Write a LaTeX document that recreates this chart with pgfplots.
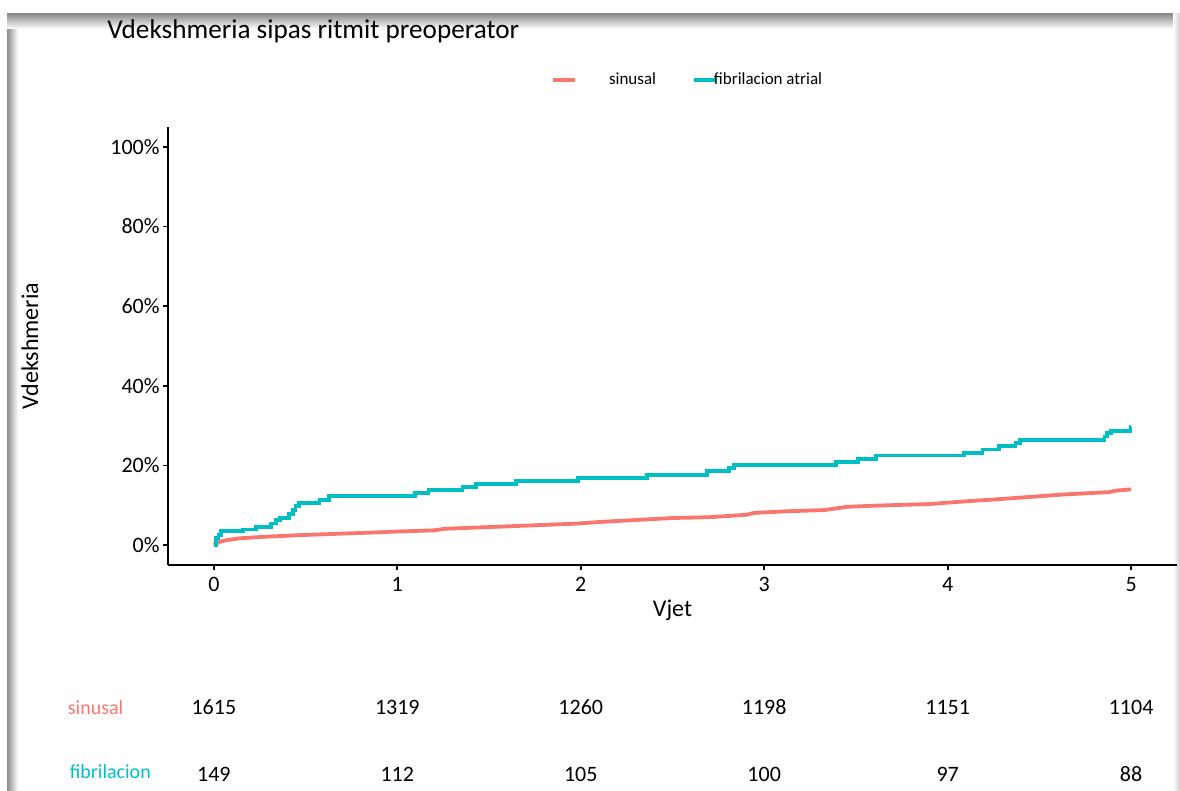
\documentclass[border=0pt]{standalone}
\usepackage{pgfplots}
\pgfplotsset{compat=1.18}
\usepackage{fontspec}
\setmainfont{Carlito}
\definecolor{sred}{HTML}{F8766D}
\definecolor{fcyan}{HTML}{00BFC4}

\pgfplotstableread{
t p
0 0
0.03 0.8
0.07 1.25
0.14 1.7
0.28 2.1
0.47 2.5
0.65 2.8
0.9 3.2
1.0 3.4
1.2 3.7
1.26 4.1
1.6 4.7
1.98 5.4
2.1 5.8
2.5 6.8
2.7 7.0
2.9 7.6
2.95 8.1
3.13 8.5
3.33 8.8
3.45 9.6
3.6 9.9
3.9 10.3
4.1 11.0
4.27 11.5
4.45 12.1
4.63 12.7
4.88 13.3
4.92 13.7
5.0 14.0
}\sinusal

\pgfplotstableread{
t p
0 0
0.01 1.7
0.025 2.5
0.04 3.5
0.16 3.9
0.23 4.6
0.31 5.4
0.34 6.25
0.36 6.8
0.41 7.9
0.43 8.75
0.445 9.75
0.464 10.6
0.576 11.25
0.627 12.25
1.098 13.1
1.17 13.75
1.355 14.6
1.427 15.4
1.648 16.1
1.983 16.9
2.36 17.7
2.687 18.6
2.81 19.3
2.837 20.2
3.393 20.8
3.51 21.7
3.61 22.5
4.09 23.2
4.19 24.0
4.28 24.8
4.37 25.6
4.395 26.4
4.855 27.25
4.87 28.1
4.89 28.75
4.996 29.75
5.0 29.75
}\fibril

\pgfplotstableread{
x y n
0 0.83 1615
1 0.83 1319
2 0.83 1260
3 0.83 1198
4 0.83 1151
5 0.83 1104
0 0.16 149
1 0.16 112
2 0.16 105
3 0.16 100
4 0.16 97
5 0.16 88
}\risk

\begin{document}
\begin{tikzpicture}
\path[use as bounding box] (0,0) rectangle (590pt,395.5pt);
% screenshot frame shadow
\shade[left color=gray!90, right color=white] (3.5pt,0pt) rectangle (9pt,388.5pt);
\shade[top color=gray!90, bottom color=white] (3.5pt,388.5pt) rectangle (590pt,381pt);
\shade[left color=white, right color=gray!40] (586.5pt,0pt) rectangle (590pt,388.5pt);

\node[anchor=west, inner sep=0pt, font=\fontsize{13.6}{16}\selectfont] at (53.5pt,380pt) {Vdekshmeria sipas ritmit preoperator};

\begin{axis}[
  at={(84pt,113pt)}, anchor=south west,
  scale only axis, width=504.5pt, height=219pt,
  xmin=-0.25, xmax=5.25, ymin=-5, ymax=105,
  axis x line*=bottom, axis y line*=left,
  axis line style={line width=0.9pt, black},
  xtick={0,1,2,3,4,5}, ytick={0,20,40,60,80,100},
  yticklabel={\pgfmathprintnumber{\tick}\%},
  tick align=outside, major tick length=2.5pt,
  every tick/.style={black, line width=0.9pt},
  tick label style={font=\fontsize{11}{13}\selectfont},
  yticklabel style={inner sep=1.5pt},
  /pgf/number format/assume math mode=true,
  xlabel={Vjet}, ylabel={Vdekshmeria},
  every axis x label/.style={at={(rel axis cs:0.5,-0.103)},anchor=center,font=\fontsize{12}{14}\selectfont},
  every axis y label/.style={at={(rel axis cs:-0.137,0.5)},rotate=90,anchor=center,font=\fontsize{12}{14}\selectfont},
  legend style={at={(0.516,1.107)}, anchor=center, draw=none, fill=none,
    legend columns=2, font=\fontsize{8.5}{10}\selectfont},
  legend image code/.code={\draw[#1] (0pt,0pt) -- (11pt,0pt);},
]
\addplot[sred, line width=1.9pt, sharp plot] table[x=t,y=p] {\sinusal};
\addlegendentry{\hspace*{14pt}sinusal\rule{16pt}{0pt}}
\addplot[fcyan, line width=1.9pt, const plot] table[x=t,y=p] {\fibril};
\addlegendentry{\hspace*{-4pt}fibrilacion atrial}
\end{axis}

\begin{axis}[
  at={(84pt,0pt)}, anchor=south west,
  scale only axis, width=504.5pt, height=50pt,
  xmin=-0.25, xmax=5.25, ymin=0, ymax=1,
  hide axis, clip=false,
]
\addplot[draw=none, mark=none, nodes near coords, point meta=explicit symbolic,
  every node near coord/.append style={anchor=center, text height=1.6ex, text depth=0.2ex, text=black, font=\fontsize{11}{13}\selectfont}]
  table[x=x,y=y,meta=n] {\risk};
\node[anchor=west, inner sep=0pt, text=sred, font=\fontsize{10}{12}\selectfont] at (axis cs:-0.798,0.83) {sinusal};
\node[anchor=west, inner sep=0pt, text=fcyan, font=\fontsize{10}{12}\selectfont] at (axis cs:-0.787,0.19) {fibrilacion};
\end{axis}
\end{tikzpicture}
\end{document}
